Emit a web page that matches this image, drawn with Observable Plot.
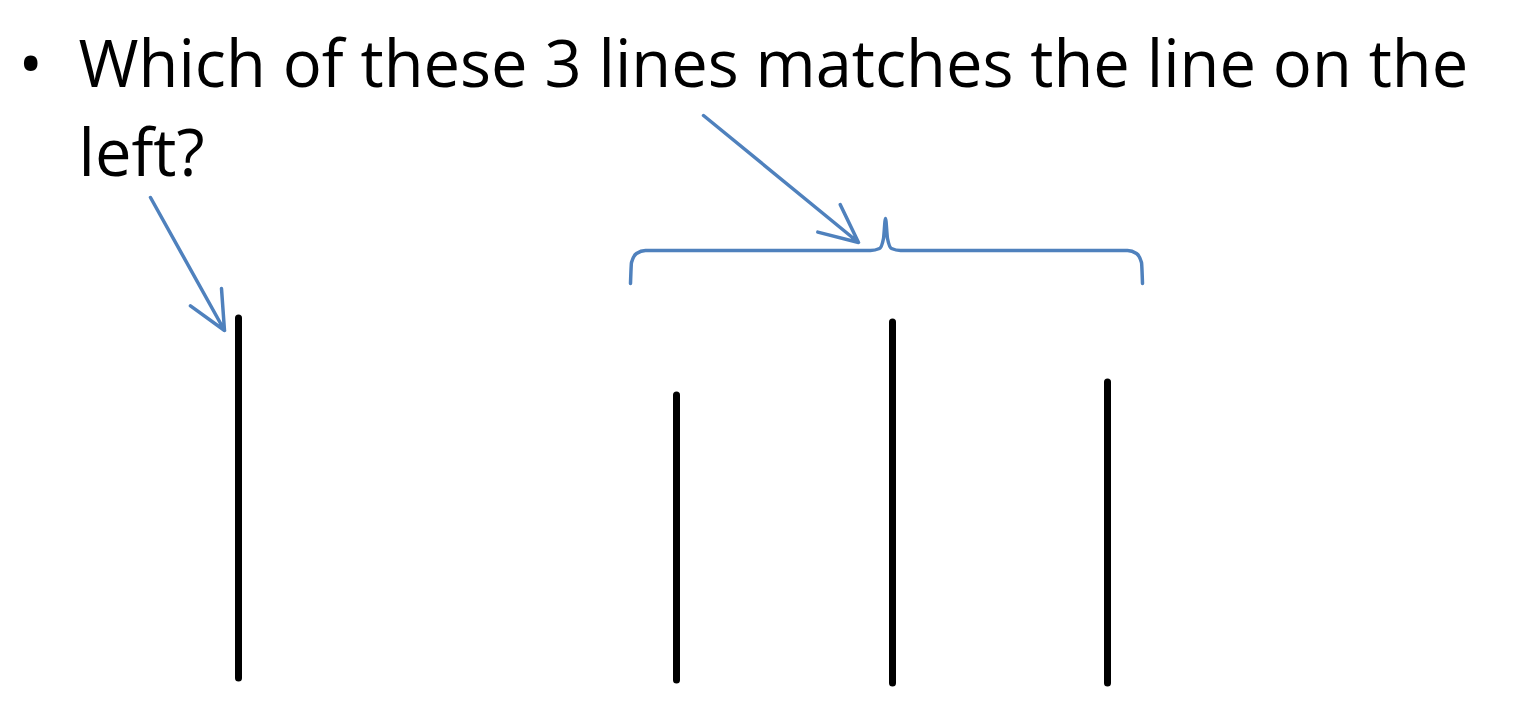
<!DOCTYPE html>
<html>
<head>
<meta charset="utf-8">
<script src="https://cdn.jsdelivr.net/npm/d3@7"></script>
<script src="https://cdn.jsdelivr.net/npm/@observablehq/plot@0.6"></script>
<style>body{margin:0;background:#fff}</style>
</head>
<body>
<div id="chart"></div>
<script>
// slide in pixel space
const textLines = [
  {x: 78, y: 66, text: "Which of these 3 lines matches the line on the"},
  {x: 78, y: 155, text: "left?"}
]
const bullets = [{x: 18, y: 66, text: "•"}]

const lineX = [238, 676, 892, 1107]
const lineTop = [318, 395, 322, 382]
const lineBottom = [678, 680, 683, 683]
const lines = lineX.map((x, i) => ({x, y1: lineTop[i], y2: lineBottom[i]}))

const arrows = [
  {x1: 150, y1: 197, x2: 224, y2: 330},
  {x1: 703, y1: 115, x2: 858, y2: 242}
]

const braceX = [630, 631, 636, 645, 870, 879, 883, 885, 887, 891, 900, 1127, 1136, 1141, 1142]
const braceY = [283, 262, 253, 250, 250, 248, 238, 218, 238, 248, 250, 250, 253, 262, 283]
const brace = braceX.map((x, i) => ({x, y: braceY[i]}))

const blue = "#4f81bd"

const chart = Plot.plot({
  width: 1532,
  height: 712,
  margin: 0,
  x: {domain: [0, 1532], range: [0, 1532], axis: null},
  y: {domain: [0, 712], range: [0, 712], axis: null},
  marks: [
    Plot.ruleX(lines, {x: "x", y1: "y1", y2: "y2", stroke: "black", strokeWidth: 7, strokeLinecap: "round"}),
    Plot.arrow(arrows, {x1: "x1", y1: "y1", x2: "x2", y2: "y2", stroke: blue, strokeWidth: 3.5, headLength: 18, headAngle: 50}),
    Plot.line(brace, {x: "x", y: "y", stroke: blue, strokeWidth: 3.5, curve: "monotone-x"}),
    Plot.text(textLines, {x: "x", y: "y", text: "text", textAnchor: "start", fontSize: 65, fill: "black"}),
    Plot.text(bullets, {x: "x", y: "y", text: "text", textAnchor: "start", fontSize: 65, fill: "black"})
  ],
  style: {fontFamily: "Open Sans", background: "#fff"}
})
document.getElementById("chart").append(chart)
</script>
</body>
</html>
